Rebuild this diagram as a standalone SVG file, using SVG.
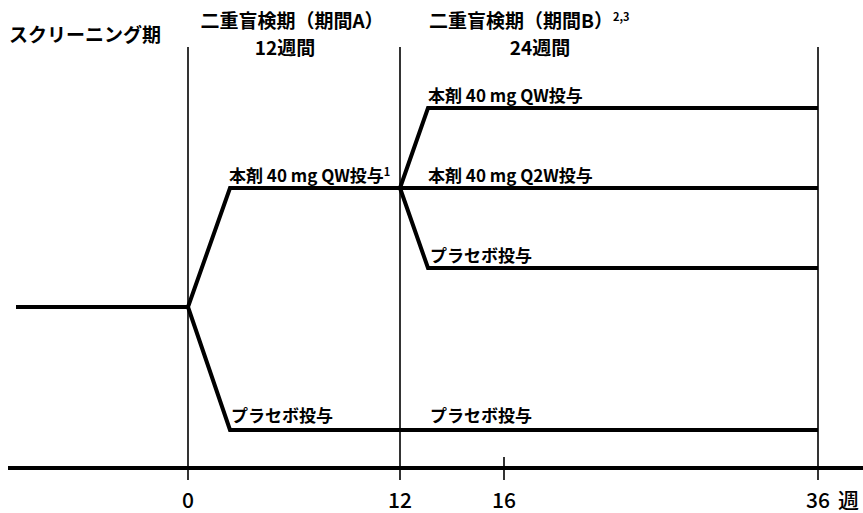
<svg xmlns="http://www.w3.org/2000/svg" width="863" height="513" viewBox="0 0 863 513">
<style>
text{font-family:"Noto Sans CJK JP","Noto Sans",sans-serif;font-weight:bold;fill:#000}
.h{font-size:19px}
.s{font-size:19px}
.l{font-size:17px}
.a{font-size:21px;font-weight:500}
.thin{stroke:#000;stroke-width:1.6;fill:none}
.arm{stroke:#000;stroke-width:4;fill:none;stroke-linejoin:miter}
</style>
<rect width="863" height="513" fill="#fff"/>
<g id="headers">
<text class="s" x="9" y="42">スクリーニング期</text>
<text class="h" x="292" y="28" text-anchor="middle">二重盲検期（期間A）</text>
<text class="h" x="285" y="55" text-anchor="middle">12週間</text>
<text class="h" x="429" y="28">二重盲検期（期間B）<tspan font-size="11" dy="-7">2,3</tspan></text>
<text class="h" x="540" y="55" text-anchor="middle">24週間</text>
</g>
<g id="connectors">
<line class="thin" x1="188" y1="47" x2="188" y2="480"/>
<line class="thin" x1="400" y1="47" x2="400" y2="480"/>
<line class="thin" x1="818" y1="47" x2="818" y2="480"/>
<line class="thin" x1="504" y1="457" x2="504" y2="480"/>
<line class="arm" x1="8" y1="468" x2="863" y2="468"/>
<polyline class="arm" points="16,307 188,307 230,188 400,188"/>
<polyline class="arm" points="188,307 230,430 818,430"/>
<polyline class="arm" points="400,188 428,108 818,108"/>
<line class="arm" x1="400" y1="188" x2="818" y2="188"/>
<polyline class="arm" points="400,188 428,268 818,268"/>
</g>
<g id="label-a-active"><text class="l" x="229" y="182">本剤 40 mg QW投与<tspan font-size="11" dy="-6">1</tspan></text></g>
<g id="label-b-qw"><text class="l" x="428" y="102">本剤 40 mg QW投与</text></g>
<g id="label-b-q2w"><text class="l" x="428" y="182">本剤 40 mg Q2W投与</text></g>
<g id="label-b-placebo"><text class="l" x="430" y="262">プラセボ投与</text></g>
<g id="label-a-placebo"><text class="l" x="231" y="422">プラセボ投与</text></g>
<g id="label-ab-placebo"><text class="l" x="430" y="422">プラセボ投与</text></g>
<g id="axis-labels">
<text class="a" x="188" y="508" text-anchor="middle">0</text>
<text class="a" x="400" y="508" text-anchor="middle">12</text>
<text class="a" x="504" y="508" text-anchor="middle">16</text>
<text class="a" x="818" y="508" text-anchor="middle">36</text>
<text class="a" x="838" y="508" font-weight="bold">週</text>
</g>
</svg>
